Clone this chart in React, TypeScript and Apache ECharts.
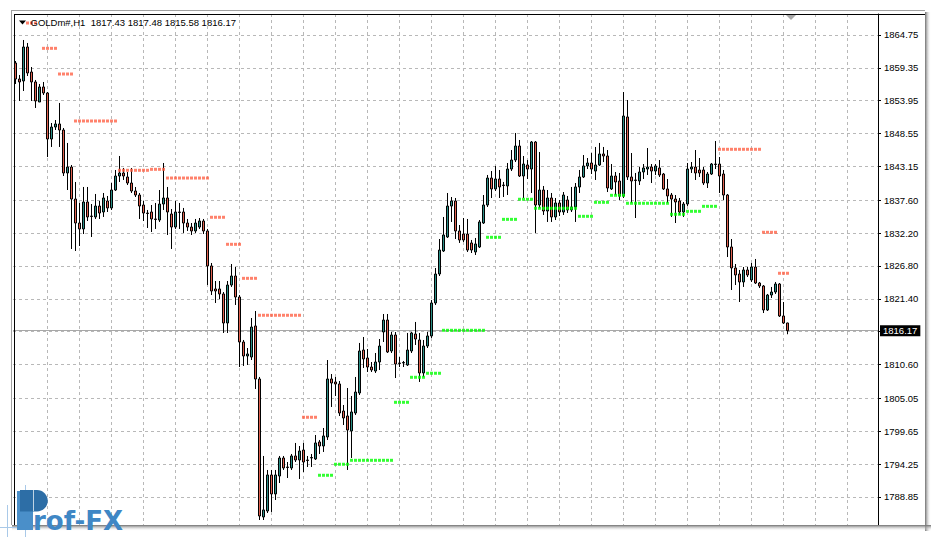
import React, { useEffect, useRef } from "react";
import * as echarts from "echarts";

// ---- OHLC data (H1 candles, oldest first) ----
const opens = [
  1860.15, 1857.52, 1857.19, 1862.78, 1858.67, 1857.03, 1853.74, 1856.21, 1855.22, 1847.66,
  1849.63, 1850.13, 1849.14, 1842.08, 1843.06, 1837.80, 1833.86, 1832.88, 1837.31, 1835.01,
  1834.85, 1836.65, 1835.67, 1837.48, 1836.33, 1839.28, 1841.58, 1842.08, 1841.42, 1840.43,
  1839.12, 1838.46, 1836.82, 1835.50, 1835.67, 1834.52, 1834.35, 1836.98, 1837.97, 1835.34,
  1833.20, 1835.67, 1835.67, 1833.86, 1833.20, 1832.55, 1833.20, 1834.19, 1832.55, 1826.80,
  1823.02, 1823.02, 1822.20, 1817.43, 1823.67, 1825.15, 1821.70, 1814.31, 1812.01, 1811.84,
  1816.94, 1808.23, 1785.56, 1786.54, 1792.46, 1789.34, 1792.29, 1795.25, 1793.77, 1793.61,
  1795.58, 1794.92, 1796.56, 1794.92, 1795.25, 1795.09, 1797.88, 1797.22, 1798.70, 1808.23,
  1807.74, 1807.41, 1802.97, 1802.15, 1799.69, 1802.64, 1805.93, 1812.99, 1811.68, 1810.20,
  1809.54, 1811.02, 1815.95, 1817.92, 1812.83, 1815.46, 1810.86, 1810.86, 1810.53, 1812.83,
  1815.62, 1814.64, 1809.22, 1813.65, 1815.30, 1820.72, 1825.48, 1829.26, 1831.56, 1836.65,
  1837.48, 1832.55, 1832.05, 1832.05, 1830.58, 1829.10, 1829.92, 1833.86, 1836.82, 1841.25,
  1839.45, 1841.09, 1840.10, 1839.94, 1842.73, 1844.21, 1846.51, 1841.58, 1843.39, 1842.73,
  1847.17, 1836.82, 1839.28, 1835.83, 1837.97, 1834.85, 1837.15, 1835.67, 1837.64, 1836.00,
  1836.49, 1839.78, 1841.42, 1843.23, 1843.72, 1842.40, 1843.39, 1845.20, 1844.87, 1839.45,
  1841.58, 1840.76, 1838.30, 1851.28, 1841.42, 1840.93, 1840.76, 1842.24, 1842.73, 1843.06,
  1842.40, 1842.90, 1841.91, 1839.45, 1838.46, 1837.80, 1837.48, 1835.67, 1836.98, 1842.73,
  1843.06, 1842.57, 1842.57, 1840.43, 1841.91, 1843.55, 1843.55, 1841.91, 1838.46, 1829.92,
  1826.47, 1825.48, 1824.17, 1826.14, 1824.50, 1826.63, 1824.00, 1823.51, 1819.57, 1822.03,
  1822.52, 1823.84, 1818.58, 1817.43,
];

const closes = [
  1857.52, 1857.03, 1862.78, 1858.51, 1857.03, 1853.91, 1856.21, 1855.22, 1847.66, 1849.63,
  1850.13, 1849.14, 1842.08, 1843.06, 1837.80, 1833.86, 1832.88, 1837.31, 1834.85, 1834.93,
  1836.65, 1835.50, 1837.97, 1836.33, 1839.28, 1841.58, 1842.08, 1841.58, 1840.43, 1839.12,
  1838.46, 1836.65, 1835.50, 1835.42, 1834.52, 1834.44, 1836.98, 1837.97, 1835.67, 1833.20,
  1835.67, 1835.59, 1833.86, 1833.20, 1832.55, 1833.86, 1834.19, 1832.55, 1826.80, 1822.69,
  1822.69, 1822.20, 1817.43, 1823.67, 1825.15, 1821.70, 1814.31, 1812.01, 1812.34, 1816.77,
  1808.23, 1785.72, 1786.71, 1792.46, 1789.34, 1792.46, 1795.25, 1793.61, 1793.69, 1795.58,
  1794.92, 1796.40, 1794.59, 1794.84, 1795.33, 1797.72, 1797.22, 1798.87, 1808.23, 1807.57,
  1807.41, 1802.64, 1801.82, 1799.85, 1802.81, 1806.09, 1812.83, 1811.52, 1810.20, 1809.71,
  1811.02, 1813.65, 1817.92, 1812.67, 1815.46, 1810.69, 1810.78, 1810.94, 1812.99, 1815.79,
  1814.80, 1809.22, 1813.65, 1815.30, 1820.72, 1825.48, 1829.42, 1831.89, 1836.65, 1837.48,
  1832.55, 1831.07, 1831.07, 1829.42, 1829.42, 1830.41, 1834.03, 1836.82, 1841.25, 1839.45,
  1841.09, 1839.78, 1840.02, 1842.73, 1844.21, 1846.51, 1841.58, 1843.55, 1842.73, 1847.17,
  1836.82, 1839.28, 1835.83, 1837.97, 1834.85, 1837.15, 1835.67, 1838.46, 1836.00, 1836.49,
  1839.78, 1841.42, 1843.23, 1843.72, 1842.73, 1843.39, 1845.20, 1844.87, 1839.61, 1841.58,
  1840.60, 1838.30, 1851.44, 1841.42, 1840.76, 1840.85, 1842.24, 1842.90, 1843.06, 1842.40,
  1843.23, 1841.75, 1839.45, 1838.30, 1837.80, 1837.31, 1835.67, 1836.98, 1842.73, 1843.06,
  1842.08, 1842.08, 1840.43, 1841.91, 1843.55, 1843.47, 1841.58, 1838.46, 1829.92, 1826.47,
  1825.32, 1824.17, 1826.14, 1825.32, 1826.63, 1824.00, 1823.51, 1819.57, 1822.03, 1822.52,
  1823.84, 1818.58, 1817.43, 1816.17,
];

const lows = [
  1856.70, 1853.91, 1855.55, 1858.01, 1853.91, 1852.76, 1853.74, 1854.89, 1844.70, 1846.35,
  1849.14, 1846.35, 1841.58, 1839.28, 1829.59, 1829.26, 1830.08, 1832.05, 1834.19, 1831.56,
  1834.52, 1834.52, 1834.85, 1835.67, 1836.00, 1839.12, 1840.60, 1840.93, 1840.10, 1838.79,
  1838.13, 1834.52, 1834.19, 1833.04, 1832.38, 1832.88, 1834.03, 1836.00, 1831.89, 1829.59,
  1832.88, 1832.88, 1832.22, 1832.55, 1831.89, 1832.22, 1832.88, 1832.05, 1823.67, 1822.03,
  1820.72, 1821.37, 1815.79, 1815.79, 1823.35, 1820.39, 1810.20, 1810.37, 1810.53, 1811.35,
  1806.59, 1785.06, 1785.06, 1786.21, 1786.38, 1788.35, 1791.14, 1793.28, 1791.96, 1793.28,
  1794.59, 1791.80, 1792.95, 1793.77, 1793.77, 1794.92, 1795.91, 1796.24, 1798.21, 1803.63,
  1805.44, 1802.15, 1800.67, 1793.28, 1795.25, 1802.32, 1805.60, 1810.04, 1809.38, 1809.38,
  1809.22, 1809.71, 1814.31, 1812.50, 1812.50, 1808.39, 1810.20, 1810.20, 1810.37, 1812.50,
  1813.82, 1807.74, 1808.56, 1813.32, 1814.97, 1820.39, 1825.15, 1829.10, 1831.40, 1834.03,
  1831.23, 1830.58, 1830.74, 1829.10, 1828.93, 1828.60, 1829.75, 1833.70, 1836.49, 1837.97,
  1839.12, 1837.97, 1838.13, 1838.46, 1842.40, 1843.88, 1841.42, 1837.97, 1841.09, 1838.79,
  1832.22, 1836.33, 1835.18, 1834.03, 1834.03, 1834.35, 1835.01, 1835.18, 1835.50, 1835.67,
  1834.03, 1838.79, 1841.25, 1842.73, 1841.91, 1840.93, 1843.23, 1843.88, 1838.95, 1839.28,
  1838.46, 1837.64, 1837.97, 1840.93, 1837.15, 1834.68, 1840.10, 1841.09, 1841.75, 1840.43,
  1841.75, 1841.42, 1839.28, 1837.15, 1834.85, 1833.86, 1835.18, 1834.85, 1836.65, 1842.08,
  1840.93, 1841.42, 1840.10, 1839.61, 1841.75, 1842.73, 1838.79, 1837.64, 1828.27, 1822.85,
  1823.67, 1820.88, 1823.35, 1824.99, 1824.17, 1823.84, 1823.18, 1819.07, 1819.40, 1821.54,
  1822.20, 1818.42, 1817.27, 1815.58,
];

const highs = [
  1860.48, 1858.18, 1863.93, 1863.44, 1859.49, 1857.36, 1856.70, 1857.03, 1855.38, 1850.29,
  1850.78, 1853.58, 1849.47, 1847.01, 1843.39, 1840.60, 1837.15, 1839.78, 1839.78, 1836.98,
  1838.63, 1837.48, 1838.79, 1838.30, 1840.43, 1842.57, 1844.87, 1842.90, 1842.24, 1842.90,
  1839.78, 1838.79, 1837.48, 1836.00, 1836.82, 1837.15, 1839.28, 1843.72, 1839.78, 1836.16,
  1837.48, 1837.15, 1836.33, 1834.52, 1833.86, 1834.52, 1834.68, 1834.52, 1832.88, 1827.29,
  1824.33, 1824.33, 1822.52, 1824.33, 1827.12, 1826.63, 1822.03, 1814.64, 1813.32, 1818.25,
  1819.40, 1808.56, 1795.58, 1793.28, 1793.28, 1793.28, 1795.58, 1795.58, 1794.59, 1795.91,
  1797.72, 1797.22, 1797.72, 1795.58, 1795.91, 1799.03, 1798.21, 1800.18, 1811.35, 1809.05,
  1808.56, 1807.90, 1803.96, 1806.75, 1805.44, 1808.56, 1814.15, 1815.13, 1813.16, 1811.02,
  1812.50, 1814.80, 1818.91, 1818.91, 1815.95, 1815.95, 1811.84, 1811.19, 1815.79, 1815.95,
  1817.60, 1815.79, 1814.64, 1815.95, 1821.21, 1826.47, 1831.23, 1834.85, 1838.79, 1838.13,
  1837.97, 1833.53, 1834.68, 1834.52, 1831.07, 1831.40, 1834.35, 1838.46, 1841.75, 1842.40,
  1843.23, 1842.57, 1840.60, 1843.72, 1845.85, 1848.65, 1847.50, 1844.87, 1844.21, 1847.33,
  1847.33, 1845.53, 1839.94, 1839.28, 1838.79, 1837.97, 1837.64, 1838.95, 1838.30, 1839.78,
  1840.43, 1842.57, 1845.03, 1844.54, 1845.36, 1846.35, 1847.01, 1846.35, 1845.85, 1843.55,
  1842.24, 1842.08, 1855.38, 1854.07, 1845.36, 1842.08, 1843.06, 1843.55, 1846.18, 1843.55,
  1843.55, 1844.21, 1842.08, 1841.09, 1838.79, 1838.46, 1837.97, 1837.31, 1843.72, 1843.88,
  1845.85, 1844.54, 1843.06, 1842.24, 1843.72, 1847.33, 1844.70, 1842.57, 1838.63, 1831.23,
  1827.12, 1826.14, 1826.63, 1826.63, 1827.29, 1827.95, 1824.17, 1823.67, 1822.20, 1823.35,
  1824.17, 1824.00, 1820.88, 1817.48,
];

// ---- indicator dots: runs of bars at one level ----
const redRunStart = [3, 7, 11, 15, 26, 34, 38, 49, 53, 57, 61, 72, 176, 187, 191];
const redRunEnd = [5, 10, 14, 25, 33, 37, 48, 52, 56, 60, 71, 75, 186, 190, 193];
const redRunLevel = [1866.72, 1862.56, 1858.34, 1850.62, 1842.52, 1842.68, 1841.25, 1834.80, 1830.36, 1824.77, 1818.70, 1801.94, 1845.97, 1832.33, 1825.60];

const greenRunStart = [76, 80, 84, 95, 99, 103, 107, 118, 122, 126, 130, 141, 145, 149, 153, 164, 168, 172];
const greenRunEnd = [79, 83, 94, 98, 102, 106, 117, 121, 125, 129, 140, 144, 148, 152, 163, 167, 171, 175];
const greenRunLevel = [1792.41, 1794.22, 1794.87, 1804.40, 1808.51, 1809.17, 1816.23, 1831.51, 1834.46, 1837.76, 1836.28, 1834.96, 1837.26, 1838.41, 1837.10, 1835.29, 1835.78, 1836.60];

// ---- axes ----
const priceTicks = [1788.85, 1794.25, 1799.65, 1805.05, 1810.6, 1816.0, 1821.4, 1826.8, 1832.2, 1837.6, 1843.15, 1848.55, 1853.95, 1859.35, 1864.75];
const priceLabels = [1788.85, 1794.25, 1799.65, 1805.05, 1810.6, 1821.4, 1826.8, 1832.2, 1837.6, 1843.15, 1848.55, 1853.95, 1859.35, 1864.75];
const barGridTicks = [8, 16, 24, 32, 40, 48, 56, 64, 72, 80, 88, 96, 104, 112, 120, 128, 136, 144, 152, 160, 168, 176, 184, 192, 200, 208];
const lastPrice = 1816.17;
const titleText = "GOLDm#,H1  1817.43 1817.48 1815.58 1816.17";

const FONT = '"Liberation Sans", Arial, sans-serif';
const BULL = "#2A8E85";
const BEAR = "#E0614F";
const RED_DOT = "#FF6347";
const GREEN_DOT = "#00FF00";
const GRID = "#b8b8b8";

function expandRuns(start: number[], end: number[], level: number[]) {
  const out: number[][] = [];
  for (let r = 0; r < start.length; r++) {
    for (let i = start[r]; i <= end[r]; i++) out.push([i, level[r]]);
  }
  return out;
}

export default function App() {
  const ref = useRef<HTMLDivElement>(null);

  useEffect(() => {
    if (!ref.current) return;
    const chart = echarts.init(ref.current, undefined, { renderer: "svg" });
    const candleData = opens.map((o, i) => [i, o, closes[i], lows[i], highs[i]]);
    const redDots = expandRuns(redRunStart, redRunEnd, redRunLevel);
    const greenDots = expandRuns(greenRunStart, greenRunEnd, greenRunLevel);

    const line = (x1: number, y1: number, x2: number, y2: number, stroke: string, z = 50) => ({
      type: "line",
      silent: true,
      z,
      shape: { x1, y1, x2, y2 },
      style: { stroke, lineWidth: 1 },
    });

    const option: any = {
      animation: false,
      backgroundColor: "#ffffff",
      grid: { left: 13, right: 59, top: 14, bottom: 12, containLabel: false },
      xAxis: {
        type: "value",
        min: -0.625,
        max: 215.625,
        axisLine: { show: false },
        axisLabel: { show: false },
        axisTick: { show: false, customValues: barGridTicks },
        splitLine: { show: true, lineStyle: { color: GRID, type: [3, 3], width: 1 } },
      },
      yAxis: {
        type: "value",
        position: "right",
        min: 1784.24,
        max: 1868.2,
        axisLine: { show: true, onZero: false, lineStyle: { color: "#000", width: 1 } },
        axisTick: { show: true, length: 3, customValues: priceTicks, lineStyle: { color: "#000" } },
        axisLabel: {
          show: true,
          customValues: priceLabels,
          formatter: (v: number) => v.toFixed(2),
          color: "#000",
          fontSize: 9.5,
          fontFamily: FONT,
          margin: 6,
        },
        splitLine: { show: true, lineStyle: { color: GRID, type: [3, 3], width: 1 } },
      },
      series: [
        {
          type: "candlestick",
          data: candleData,
          barWidth: 2,
          itemStyle: {
            color: BULL,
            color0: BEAR,
            borderColor: "#000",
            borderColor0: "#000",
            borderColorDoji: "#000",
            borderWidth: 1,
          },
          markLine: {
            silent: true,
            z: 1,
            symbol: ["none", "none"],
            animation: false,
            data: [{ yAxis: lastPrice }],
            lineStyle: { color: "#a8a8a8", type: "solid", width: 1 },
            label: {
              show: true,
              position: "end",
              distance: 2,
              formatter: lastPrice.toFixed(2),
              color: "#fff",
              backgroundColor: "#000",
              padding: [1, 3, 0, 3],
              fontSize: 9.5,
              fontFamily: FONT,
            },
          },
        },
        {
          type: "scatter",
          data: redDots,
          symbol: "rect",
          symbolSize: 3,
          itemStyle: { color: RED_DOT },
          z: 8,
        },
        {
          type: "scatter",
          data: greenDots,
          symbol: "rect",
          symbolSize: 3,
          itemStyle: { color: GREEN_DOT },
          z: 8,
        },
      ],
      graphic: [
        {
          type: "rect",
          silent: true,
          z: 49,
          shape: { x: 925, y: 12, width: 6, height: 519 },
          style: {
            fill: {
              type: "linear", x: 0, y: 0, x2: 1, y2: 0,
              colorStops: [{ offset: 0, color: "#6e6e6e" }, { offset: 1, color: "rgba(255,255,255,0)" }],
            },
          },
        },
        {
          type: "rect",
          silent: true,
          z: 49,
          shape: { x: 12, y: 525, width: 919, height: 6 },
          style: {
            fill: {
              type: "linear", x: 0, y: 0, x2: 0, y2: 1,
              colorStops: [{ offset: 0, color: "#6e6e6e" }, { offset: 1, color: "rgba(255,255,255,0)" }],
            },
          },
        },
        line(11.5, 10, 11.5, 525, "#a0a0a0"),
        line(11, 10.5, 925, 10.5, "#a0a0a0"),
        line(14, 14.5, 925, 14.5, "#000"),
        line(14.5, 14, 14.5, 525, "#000"),
        {
          type: "polygon",
          silent: true,
          z: 50,
          shape: { points: [[786, 15], [796, 15], [791, 20]] },
          style: { fill: "#a8a8a8" },
        },
        {
          type: "polygon",
          silent: true,
          z: 50,
          shape: { points: [[19, 20.5], [26, 20.5], [22.5, 24.5]] },
          style: { fill: "#000" },
        },
        {
          type: "text",
          silent: true,
          z: 50,
          x: 30.5,
          y: 22.7,
          style: { text: titleText, fill: "#000", font: `9.5px ${FONT}`, align: "left", verticalAlign: "middle" },
        },
        // Prof-FX watermark
        line(7.5, 505, 7.5, 537, "#a9c9e8", 60),
        line(25.5, 485, 25.5, 537, "#a9c9e8", 60),
        line(0, 527.5, 20, 527.5, "#a9c9e8", 60),
        {
          type: "rect",
          silent: true,
          z: 61,
          shape: { x: 17, y: 491, width: 16, height: 39 },
          style: { fill: "#4a8fc9" },
        },
        {
          type: "rect",
          silent: true,
          z: 62,
          shape: { x: 20, y: 490, width: 17, height: 21.5 },
          style: { fill: "#2d6ea6" },
        },
        {
          type: "sector",
          silent: true,
          z: 62,
          shape: { cx: 37, cy: 500.75, r: 10.75, r0: 0, startAngle: -Math.PI / 2, endAngle: Math.PI / 2 },
          style: { fill: "#2d6ea6" },
        },
        line(33.5, 490, 33.5, 511, "rgba(255,255,255,0.7)", 63),
        {
          type: "text",
          silent: true,
          z: 62,
          x: 33,
          y: 521,
          style: { text: "rof-FX", fill: "#3f87c5", font: 'bold 26px "DejaVu Sans", sans-serif', align: "left", verticalAlign: "middle" },
        },
      ],
    };

    chart.setOption(option);
    return () => chart.dispose();
  }, []);

  return (
    <div
      ref={ref}
      style={{ position: "fixed", left: 0, top: 0, width: 937, height: 537, background: "#fff" }}
    />
  );
}
